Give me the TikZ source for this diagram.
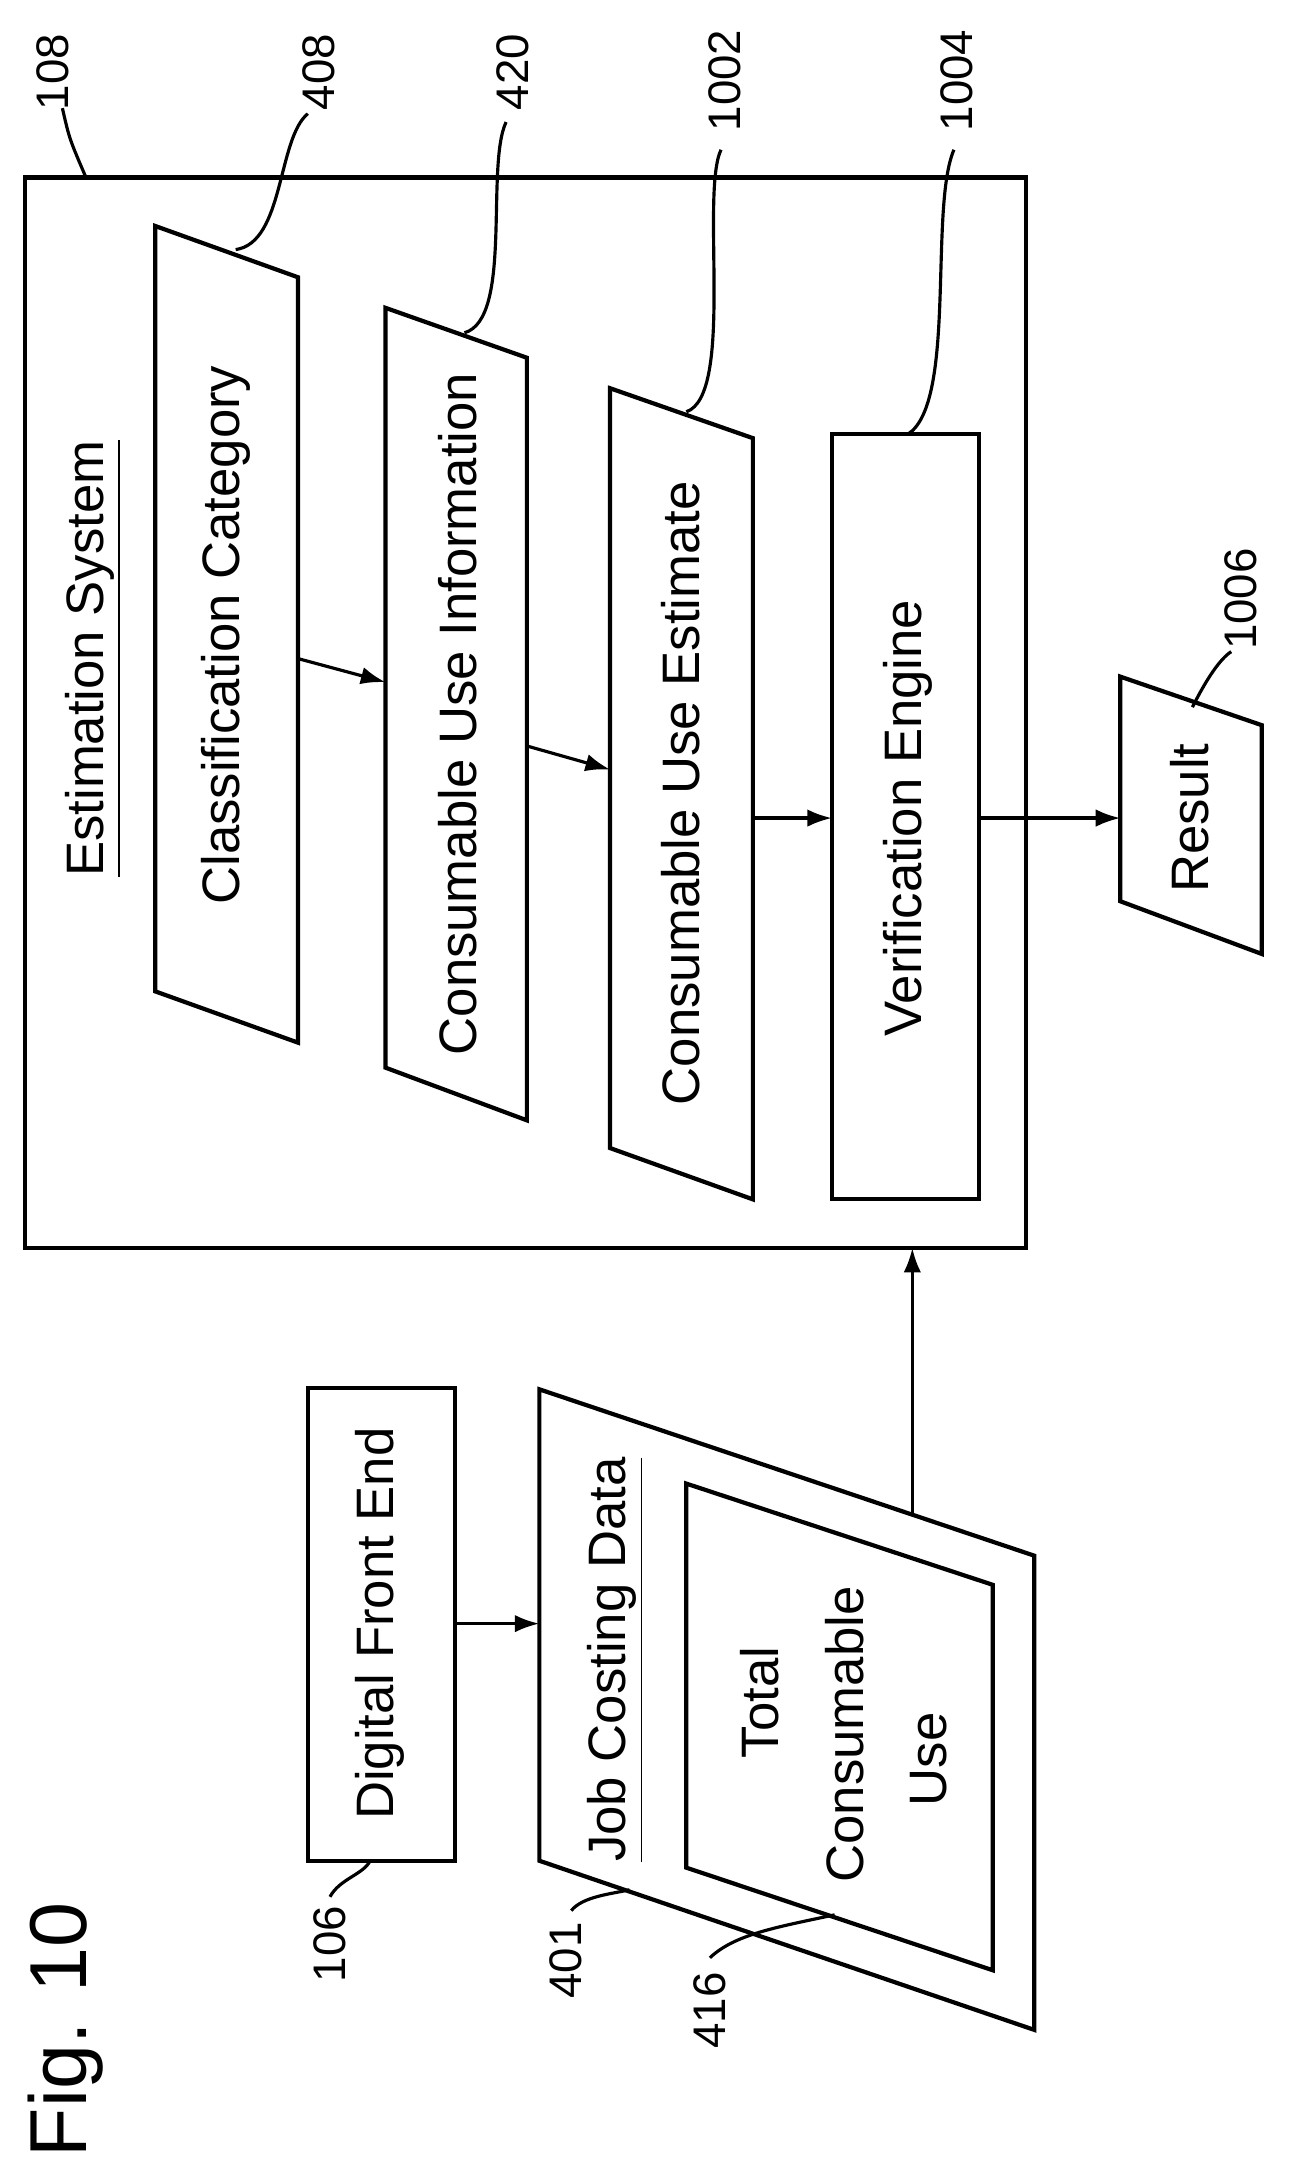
\documentclass[tikz,border=0pt]{standalone}
\usepackage{fontspec}
\setmainfont{Liberation Sans}
\usetikzlibrary{arrows.meta}
\begin{document}
\begin{tikzpicture}[x=0.013864cm,y=-0.013864cm,
  box/.style={line width=1.2pt},
  lbl/.style={rotate=90,font=\fontsize{15}{17}\selectfont,inner sep=0},
  num/.style={rotate=90,font=\fontsize{13}{15}\selectfont,inner sep=0},
  lead/.style={line width=0.9pt},
  arr/.style={line width=0.9pt,-{Latex[length=7pt,width=5pt]}}]
\useasboundingbox (0,0) rectangle (929,1573);
% outer box
\draw[box] (18,128) rectangle (740,900);
\node[lbl] (es) at (67,475) {\underline{Estimation System}};
\node[num] (n108) at (38,52) {108};
\draw[lead] (45,78) .. controls (50,100) .. (62,128);
% Classification Category
\draw[box] (112,163) -- (215,200) -- (215,752) -- (112,715) -- cycle;
\node[lbl] (cc) at (163,458) {Classification Category};
\node[num] (n408) at (230,52) {408};
\draw[lead] (170,180) .. controls (205,175) and (200,100) .. (222,82);
% Consumable Use Information
\draw[box] (278,222) -- (380,258) -- (380,808) -- (278,770) -- cycle;
\node[lbl] (cui) at (330,515) {Consumable Use Information};
\node[num] (n420) at (370,52) {420};
\draw[lead] (335,240) .. controls (370,230) and (350,120) .. (365,88);
% Consumable Use Estimate
\draw[box] (440,280) -- (543,316) -- (543,865) -- (440,828) -- cycle;
\node[lbl] (cue) at (491,572) {Consumable Use Estimate};
\node[num] (n1002) at (523,58) {1002};
\draw[lead] (495,297) .. controls (530,285) and (505,140) .. (520,108);
% Verification Engine
\draw[box] (600,313) rectangle (706,865);
\node[lbl] (ve) at (655,590) {Verification Engine};
\node[num] (n1004) at (690,58) {1004};
\draw[lead] (655,313) .. controls (690,290) and (670,150) .. (688,108);
% Result
\draw[box] (808,488) -- (910,523) -- (910,688) -- (808,650) -- cycle;
\node[lbl] (res) at (858,590) {Result};
\node[num] (n1006) at (895,432) {1006};
\draw[lead] (860,510) .. controls (870,490) and (880,475) .. (888,470);
% arrows inside
\coordinate (a1) at (215,475); \coordinate (b1) at (278,492);
\coordinate (a2) at (380,538); \coordinate (b2) at (440,555);
\coordinate (a3) at (543,590); \coordinate (b3) at (600,590);
\coordinate (a4) at (706,590); \coordinate (b4) at (808,590);
\draw[arr] (a1) -- (b1);
\draw[arr] (a2) -- (b2);
\draw[arr] (a3) -- (b3);
\draw[arr] (a4) -- (b4);
% Digital Front End
\draw[box] (222,1001) rectangle (328,1342);
\node[lbl] (dfe) at (274,1171) {Digital Front End};
\node[num] (n106) at (238,1402) {106};
\draw[lead] (267,1342) .. controls (262,1352) and (245,1355) .. (238,1368);
% Job Costing Data
\draw[box] (389,1002) -- (746,1122) -- (746,1464) -- (389,1342) -- cycle;
\node[lbl] (jcd) at (444,1197) {\underline{Job Costing Data}};
\draw[box] (495,1070) -- (716,1143) -- (716,1421) -- (495,1347) -- cycle;
\node[lbl] (t1) at (548,1228) {Total};
\node[lbl] (t2) at (609,1251) {Consumable};
\node[lbl] (t3) at (670,1269) {Use};
\node[num] (n401) at (408,1414) {401};
\draw[lead] (454,1363) .. controls (440,1366) and (420,1368) .. (412,1378);
\node[num] (n416) at (512,1450) {416};
\draw[lead] (602,1381) .. controls (560,1390) and (530,1395) .. (512,1412);
% arrows
\coordinate (a5) at (328,1171); \coordinate (b5) at (389,1171);
\draw[arr] (a5) -- (b5);
\coordinate (a6) at (658,1092); \coordinate (b6) at (658,900);
\draw[arr] (a6) -- (b6);
% Fig
\node[rotate=90,font=\fontsize{23}{25}\selectfont,inner sep=0] (fig) at (47,1464) {Fig. 10};
\end{tikzpicture}
\end{document}
